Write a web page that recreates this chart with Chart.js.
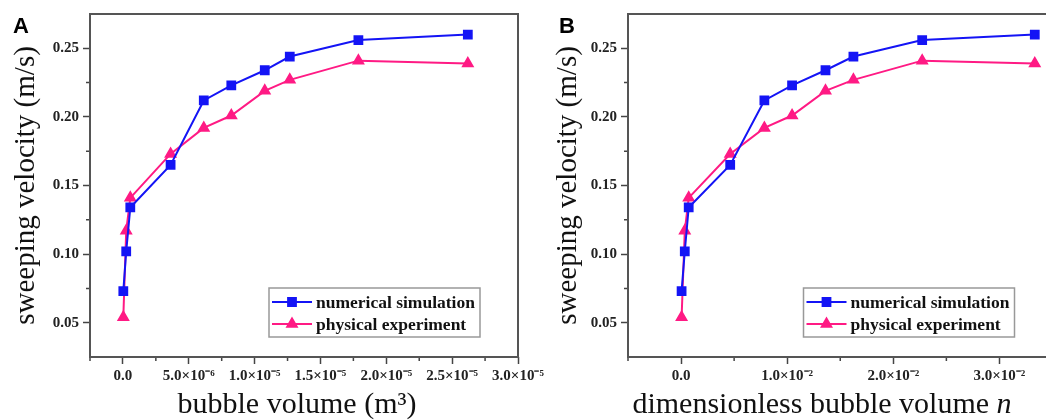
<!DOCTYPE html>
<html>
<head>
<meta charset="UTF-8">
<script src="https://cdn.jsdelivr.net/npm/chart.js@4.4.0/dist/chart.umd.min.js"></script>
<title>Sweeping velocity vs bubble volume</title>
<style>
html,body{margin:0;padding:0;background:#fff;overflow:hidden}
.wrap{position:relative;width:1046px;height:420px;overflow:hidden}
.panel{position:absolute;top:0}
#boxA{left:0}
#boxB{left:520px}
</style>
</head>
<body>
<div class="wrap">
	<div class="panel" id="boxA"><canvas id="chartA" width="560" height="420"></canvas></div>
	<div class="panel" id="boxB"><canvas id="chartB" width="540" height="420"></canvas></div>
</div>
<script>
// bubble volume (m^3) and dimensionless bubble volume n of each run
var volume  = [0.03e-6, 0.25e-6, 0.56e-6, 3.62e-6, 6.14e-6, 8.23e-6, 10.77e-6, 12.67e-6, 17.88e-6, 26.19e-6];
var volumeN = [0.00005, 0.00035, 0.00072, 0.00463, 0.00785, 0.01046, 0.01361, 0.01624, 0.02272, 0.03333];
// sweeping velocity (m/s)
var simVelocity = [0.073, 0.102, 0.134, 0.165, 0.212, 0.223, 0.234, 0.244, 0.256, 0.260];
var expVelocity = [0.054, 0.117, 0.141, 0.173, 0.192, 0.201, 0.219, 0.227, 0.241, 0.239];

var seriesNames = ['numerical simulation', 'physical experiment'];

// ticks
var yTicks = [0.05, 0.10, 0.15, 0.20, 0.25];
var yMinor = [0.075, 0.125, 0.175, 0.225];
var xTicksA  = [0, 5e-6, 1e-5, 1.5e-5, 2e-5, 2.5e-5, 3e-5];
var xLabelsA = ['0.0', '5.0×10⁻⁶', '1.0×10⁻⁵', '1.5×10⁻⁵', '2.0×10⁻⁵', '2.5×10⁻⁵', '3.0×10⁻⁵'];
var xMinorA  = [-2.5e-6, 2.5e-6, 7.5e-6, 1.25e-5, 1.75e-5, 2.25e-5, 2.75e-5];
var xTicksB  = [0, 0.01, 0.02, 0.03];
var xLabelsB = ['0.0', '1.0×10⁻²', '2.0×10⁻²', '3.0×10⁻²'];
var xMinorB  = [-0.005, 0.005, 0.015, 0.025, 0.035];

var SERIF = "'Liberation Serif', 'Times New Roman', serif";
var BLUE = '#1414f5';
var PINK = '#ff1a84';

// frame, minor ticks, boxed legend, x title and panel letter
function decorFor(cfg) {
	return {
		id: 'decor',
		afterDraw: function(chart) {
			var ctx = chart.ctx, a = chart.chartArea;
			var sx = chart.scales.x, sy = chart.scales.y;
			ctx.save();

			ctx.strokeStyle = '#444';
			ctx.lineWidth = 1.5;
			ctx.beginPath();
			cfg.minorX.forEach(function(v) {
				var px = sx.getPixelForValue(v);
				ctx.moveTo(px, a.bottom); ctx.lineTo(px, a.bottom + 4);
			});
			yMinor.forEach(function(v) {
				var py = sy.getPixelForValue(v);
				ctx.moveTo(a.left, py); ctx.lineTo(a.left - 4, py);
			});
			ctx.stroke();

			ctx.strokeStyle = '#555';
			ctx.lineWidth = 2;
			ctx.strokeRect(a.left, a.top, a.right - a.left, a.bottom - a.top);

			// legend box
			var bx = a.right - 249, by = a.bottom - 69, bw = 211, bh = 49;
			ctx.fillStyle = '#fff';
			ctx.fillRect(bx, by, bw, bh);
			ctx.strokeStyle = '#999';
			ctx.lineWidth = 1.5;
			ctx.strokeRect(bx, by, bw, bh);
			ctx.font = 'bold 17.5px ' + SERIF;
			ctx.textBaseline = 'middle';
			ctx.textAlign = 'left';
			chart.data.datasets.forEach(function(ds, i) {
				var ry = by + 14 + i * 22;
				ctx.strokeStyle = ds.borderColor;
				ctx.lineWidth = 2;
				ctx.beginPath();
				ctx.moveTo(bx + 3, ry); ctx.lineTo(bx + 43, ry);
				ctx.stroke();
				ctx.fillStyle = ds.pointBackgroundColor;
				ctx.strokeStyle = ds.pointBorderColor;
				Chart.helpers.drawPoint(ctx, {pointStyle: ds.pointStyle, radius: ds.pointRadius, borderWidth: 1, rotation: 0}, bx + 23, ry);
				ctx.fillStyle = '#111';
				ctx.fillText(ds.label, bx + 47, ry + 1);
			});

			// x axis title
			ctx.fillStyle = '#111';
			ctx.textBaseline = 'alphabetic';
			ctx.font = '30px ' + SERIF;
			var w1 = ctx.measureText(cfg.xTitle).width;
			var w2 = 0;
			if (cfg.xTitleItalic) {
				ctx.font = 'italic 30px ' + SERIF;
				w2 = ctx.measureText(cfg.xTitleItalic).width;
			}
			var tx = a.left + cfg.xTitleCenter - (w1 + w2) / 2;
			ctx.font = '30px ' + SERIF;
			ctx.fillText(cfg.xTitle, tx, 413);
			if (cfg.xTitleItalic) {
				ctx.font = 'italic 30px ' + SERIF;
				ctx.fillText(cfg.xTitleItalic, tx + w1, 413);
			}

			ctx.font = "bold 22px 'Liberation Sans', Arial, sans-serif";
			ctx.fillStyle = '#000';
			ctx.fillText(cfg.letter, cfg.letterX, 33);
			ctx.restore();
		}
	};
}

function makeChart(id, xs, cfg) {
	var tickFont = {family: SERIF, size: 15, weight: 'bold'};
	return new Chart(document.getElementById(id), {
		type: 'line',
		data: {
			datasets: [{
				label: seriesNames[0],
				data: xs.map(function(x, i) { return {x: x, y: simVelocity[i]}; }),
				borderColor: BLUE,
				pointBackgroundColor: BLUE,
				pointBorderColor: BLUE,
				pointStyle: 'rect',
				pointRadius: 5.5,
				borderWidth: 2,
				tension: 0
			}, {
				label: seriesNames[1],
				data: xs.map(function(x, i) { return {x: x, y: expVelocity[i]}; }),
				borderColor: PINK,
				pointBackgroundColor: PINK,
				pointBorderColor: PINK,
				pointStyle: 'triangle',
				pointRadius: 5.5,
				borderWidth: 2,
				tension: 0
			}]
		},
		options: {
			responsive: false,
			animation: false,
			layout: {padding: {top: 14, right: cfg.padRight, left: 0, bottom: 0}},
			plugins: {legend: {display: false}, tooltip: {enabled: false}},
			scales: {
				x: {
					type: 'linear',
					min: cfg.xMin,
					max: cfg.xMax,
					afterBuildTicks: function(s) { s.ticks = cfg.xTicks.map(function(v) { return {value: v}; }); },
					afterFit: function(s) { s.height = 63; },
					ticks: {
						autoSkip: false,
						maxRotation: 0,
						padding: 3,
						color: '#222',
						font: tickFont,
						callback: function(v, i) { return cfg.xLabels[i]; }
					},
					grid: {drawOnChartArea: false, tickLength: 7, tickColor: '#444', tickWidth: 1.5},
					border: {display: false}
				},
				y: {
					min: 0.025,
					max: 0.275,
					afterBuildTicks: function(s) { s.ticks = yTicks.map(function(v) { return {value: v}; }); },
					afterFit: function(s) { s.width = cfg.yWidth; },
					ticks: {
						padding: 4,
						color: '#222',
						font: tickFont,
						callback: function(v) { return v.toFixed(2); }
					},
					grid: {drawOnChartArea: false, tickLength: 7, tickColor: '#444', tickWidth: 1.5},
					border: {display: false},
					title: {
						display: true,
						text: 'sweeping velocity (m/s)',
						color: '#111',
						font: {family: SERIF, size: 29, lineHeight: 1},
						padding: {top: cfg.yTitlePad, bottom: 0}
					}
				}
			}
		},
		plugins: [decorFor(cfg)]
	});
}

makeChart('chartA', volume, {
	xMin: -2.5e-6, xMax: 3e-5,
	xTicks: xTicksA, xLabels: xLabelsA, minorX: xMinorA,
	padRight: 42, yWidth: 90, yTitlePad: 11.5,
	xTitle: 'bubble volume (m³)', xTitleItalic: '', xTitleCenter: 207,
	letter: 'A', letterX: 13
});

makeChart('chartB', volumeN, {
	xMin: -0.005, xMax: 0.035,
	xTicks: xTicksB, xLabels: xLabelsB, minorX: xMinorB,
	padRight: 4, yWidth: 108, yTitlePad: 33.5,
	xTitle: 'dimensionless bubble volume ', xTitleItalic: 'n', xTitleCenter: 194,
	letter: 'B', letterX: 39
});
</script>
</body>
</html>
